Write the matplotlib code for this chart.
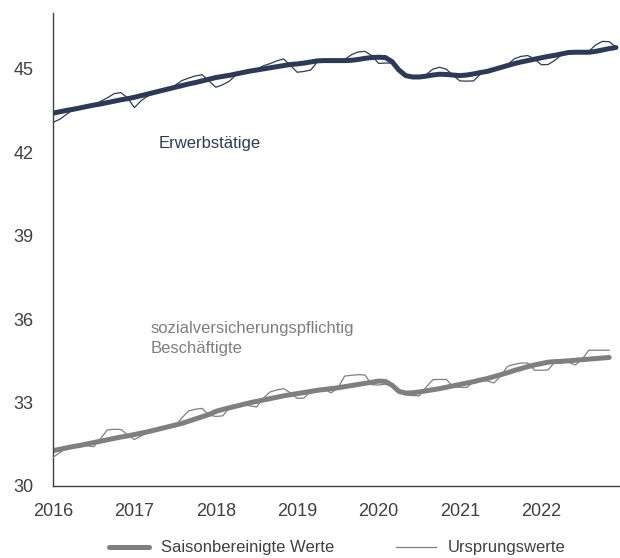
import matplotlib
matplotlib.use("Agg")
import matplotlib.pyplot as plt
from matplotlib.lines import Line2D

plt.rcParams['font.family'] = ['Liberation Sans', 'DejaVu Sans']

# Monthly values (million persons), Jan 2016 ...
years = ["2016", "2017", "2018", "2019", "2020", "2021", "2022"]

erw_sa = [
    43.40, 43.45, 43.50, 43.54, 43.59, 43.64, 43.69, 43.73, 43.78, 43.83, 43.88, 43.92,
    43.97, 44.03, 44.09, 44.15, 44.21, 44.27, 44.33, 44.39, 44.45, 44.50, 44.56, 44.62,
    44.68, 44.72, 44.76, 44.81, 44.86, 44.91, 44.95, 44.99, 45.03, 45.07, 45.11, 45.15,
    45.17, 45.20, 45.24, 45.28, 45.29, 45.29, 45.29, 45.29, 45.30, 45.33, 45.37, 45.40,
    45.41, 45.40, 45.25, 44.95, 44.75, 44.70, 44.70, 44.73, 44.77, 44.80, 44.79, 44.77,
    44.75, 44.77, 44.81, 44.86, 44.90, 44.97, 45.04, 45.11, 45.18, 45.24, 45.29, 45.34,
    45.39, 45.44, 45.48, 45.53, 45.58, 45.59, 45.59, 45.59, 45.62, 45.67, 45.72, 45.76,
]
erw_orig = [
    43.07, 43.18, 43.36, 43.53, 43.60, 43.66, 43.70, 43.82, 43.95, 44.10, 44.14, 43.95,
    43.60, 43.85, 44.02, 44.12, 44.20, 44.28, 44.40, 44.57, 44.66, 44.74, 44.78, 44.56,
    44.33, 44.42, 44.55, 44.78, 44.86, 44.91, 44.98, 45.10, 45.18, 45.28, 45.35, 45.12,
    44.87, 44.90, 44.95, 45.25, 45.29, 45.29, 45.30, 45.33, 45.50, 45.60, 45.62, 45.47,
    45.19, 45.20, 45.20, 44.92, 44.72, 44.68, 44.70, 44.78, 44.98, 45.05, 44.98, 44.75,
    44.56, 44.55, 44.56, 44.80, 44.90, 44.97, 45.04, 45.14, 45.35, 45.44, 45.47, 45.35,
    45.14, 45.15, 45.30, 45.50, 45.58, 45.59, 45.59, 45.62, 45.85, 45.98, 45.97, 45.78,
]
svb_sa = [
    31.27, 31.32, 31.37, 31.42, 31.46, 31.51, 31.56, 31.61, 31.66, 31.71, 31.76, 31.80,
    31.85, 31.90, 31.95, 32.01, 32.07, 32.13, 32.19, 32.25, 32.33, 32.41, 32.49, 32.57,
    32.68, 32.75, 32.81, 32.87, 32.93, 32.99, 33.04, 33.09, 33.14, 33.19, 33.24, 33.28,
    33.32, 33.36, 33.40, 33.44, 33.47, 33.50, 33.53, 33.57, 33.61, 33.65, 33.69, 33.73,
    33.77, 33.76, 33.62, 33.40, 33.34, 33.35, 33.38, 33.42, 33.46, 33.50, 33.55, 33.60,
    33.65, 33.70, 33.75, 33.81, 33.86, 33.93, 34.00, 34.07, 34.15, 34.22, 34.29, 34.35,
    34.40, 34.45, 34.47, 34.48, 34.50, 34.52, 34.54, 34.56, 34.58, 34.60, 34.62,
]
svb_orig = [
    31.03, 31.20, 31.36, 31.42, 31.46, 31.45, 31.41, 31.70, 32.01, 32.04, 32.03, 31.85,
    31.67, 31.80, 31.93, 32.01, 32.06, 32.10, 32.14, 32.45, 32.70, 32.76, 32.79, 32.55,
    32.50, 32.52, 32.80, 32.87, 32.92, 32.88, 32.84, 33.15, 33.38, 33.45, 33.50, 33.35,
    33.15, 33.16, 33.40, 33.44, 33.47, 33.35, 33.52, 33.95, 33.98, 34.00, 33.99, 33.64,
    33.63, 33.66, 33.60, 33.38, 33.28, 33.25, 33.24, 33.55, 33.82, 33.83, 33.83, 33.56,
    33.55, 33.54, 33.74, 33.80, 33.78, 33.70, 33.95, 34.30, 34.37, 34.42, 34.42, 34.16,
    34.16, 34.17, 34.46, 34.48, 34.45, 34.35, 34.55, 34.88, 34.88, 34.88, 34.88,
]

NAVY = "#2E3A55"
GREY = "#7F7F7F"
TXT = "#404040"

fig = plt.figure(figsize=(6.2, 5.58), dpi=100)
ax = fig.add_axes([53/620, 72/558, 1 - 53/620, (486 - 13)/558])

x_e = list(range(len(erw_sa)))
x_s = list(range(len(svb_sa)))

ax.plot(x_e, erw_orig, color=NAVY, lw=0.9, solid_joinstyle="round", zorder=3)
ax.plot(x_e, erw_sa, color=NAVY, lw=3.6, solid_capstyle="round", solid_joinstyle="round", zorder=2)
ax.plot(x_s, svb_orig, color=GREY, lw=0.9, solid_joinstyle="round", zorder=3)
ax.plot(x_s, svb_sa, color=GREY, lw=3.6, solid_capstyle="round", solid_joinstyle="round", zorder=2)

ax.set_xlim(0, 83.6)
ax.set_ylim(30, 47)
ax.set_yticks([30, 33, 36, 39, 42, 45])
ax.set_xticks([12 * k for k in range(len(years))])
ax.set_xticklabels(years)
ax.tick_params(length=0, labelsize=13, colors=TXT)
ax.tick_params(axis="y", pad=14)
ax.tick_params(axis="x", pad=12)
for s in ["top", "right"]:
    ax.spines[s].set_visible(False)
for s in ["left", "bottom"]:
    ax.spines[s].set_color(TXT)
    ax.spines[s].set_linewidth(1.0)

ax.text(15.5, 42.31, "Erwerbstätige", color=NAVY, fontsize=12, va="center", ha="left")
ax.text(14.4, 35.30, "sozialversicherungspflichtig\nBeschäftigte", color=GREY,
        fontsize=12, va="center", ha="left", linespacing=1.45)

handles = [Line2D([], [], color=GREY, lw=3.6, solid_capstyle="round"),
           Line2D([], [], color=GREY, lw=0.9)]
fig.legend(handles, ["Saisonbereinigte Werte", "Ursprungswerte"], loc="center",
           bbox_to_anchor=(0.544, 0.018), ncol=2, frameon=False, fontsize=12,
           handlelength=2.4, handletextpad=0.7, columnspacing=3.7, labelcolor=TXT)

fig.savefig("out.png", dpi=100)
